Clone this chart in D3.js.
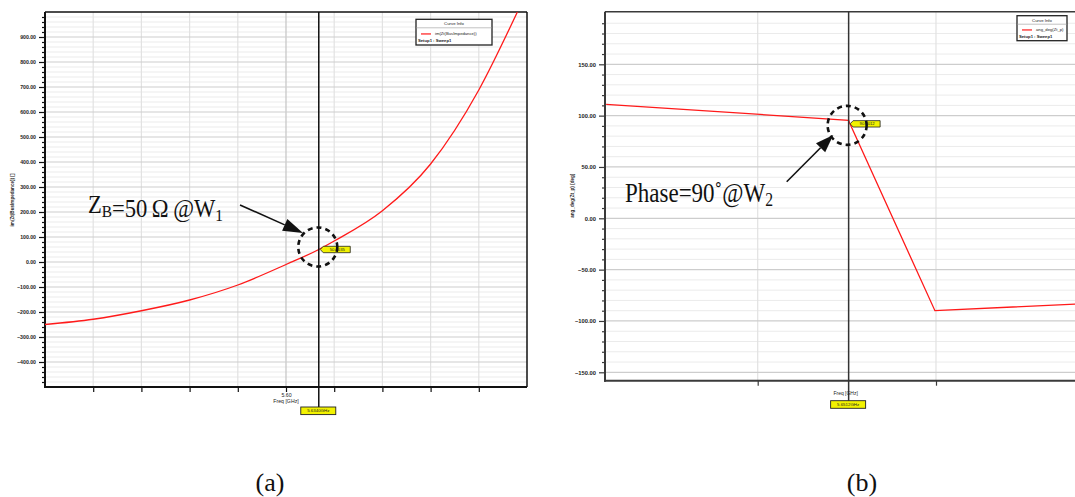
<!DOCTYPE html>
<html>
<head>
<meta charset="utf-8">
<script src="https://cdn.jsdelivr.net/npm/d3@7"></script>
<style>
  body { margin: 0; background: #fff; }
  svg { display: block; }
  .tiny { font-family: "Liberation Sans", Arial, sans-serif; fill: #222; }
  .serif { font-family: "Liberation Serif", "Times New Roman", serif; fill: #111; }
</style>
</head>
<body>
<svg id="chart" width="1075" height="497"></svg>
<script>
// (a) imaginary part of the bus impedance vs frequency
const freqA = [5.35, 5.40, 5.45, 5.50, 5.55, 5.60, 5.634, 5.65, 5.70, 5.75, 5.80, 5.84];
const imZ = [-250, -229, -195, -152, -92, -10, 50, 84, 205, 392, 688, 1000];
const yTicksA = [-400, -300, -200, -100, 0, 100, 200, 300, 400, 500, 600, 700, 800, 900];
const xGridA = [5.40, 5.45, 5.50, 5.55, 5.60, 5.65, 5.70, 5.75, 5.80];
const markerA = { freq: 5.634, value: 50, label: '50.0035', freqLabel: '5.6340GHz' };

// (b) phase of the bus impedance vs frequency
const freqB = [5.515, 5.651, 5.652, 5.6994, 5.778];
const phase = [111, 95.5, 91, -90, -83.5];
const yTicksB = [-150, -100, -50, 0, 50, 100, 150];
const xGridB = [5.6, 5.7];
const markerB = { freq: 5.651, value: 92, label: '90.0012', freqLabel: '5.6512GHz' };

const svg = d3.select('#chart');
svg.append('rect').attr('width', 1075).attr('height', 497).attr('fill', '#fff');

// grid, axes and frame of one panel
function drawFrame(g, x, y, box, opt) {
    // minor horizontal grid
    g.selectAll('line.minor')
        .data(opt.minorY)
        .join('line')
        .attr('x1', box.left).attr('x2', box.right)
        .attr('y1', d => y(d)).attr('y2', d => y(d))
        .attr('stroke', '#ebebeb').attr('stroke-width', 1);

    // vertical grid
    g.selectAll('line.vgrid')
        .data(opt.xGrid)
        .join('line')
        .attr('x1', d => x(d)).attr('x2', d => x(d))
        .attr('y1', box.top).attr('y2', box.bottom)
        .attr('stroke', d => d === opt.darkX ? '#c4c4c4' : '#e2e2e2').attr('stroke-width', 1.2);

    // major horizontal grid
    g.selectAll('line.major')
        .data(opt.yTicks)
        .join('line')
        .attr('x1', box.left).attr('x2', box.right)
        .attr('y1', d => y(d)).attr('y2', d => y(d))
        .attr('stroke', '#cdcdcd').attr('stroke-width', 1.2);

    // left axis, major ticks with labels
    const yAxis = g.append('g')
        .attr('transform', `translate(${box.left},0)`)
        .call(d3.axisLeft(y).tickValues(opt.yTicks).tickSize(6).tickPadding(3).tickFormat(d3.format('.2f')));
    yAxis.select('.domain').remove();
    yAxis.selectAll('line').attr('stroke', opt.axisColor).attr('stroke-width', 1.2);
    yAxis.selectAll('text').attr('class', 'tiny').style('font-size', opt.tickFont + 'px').style('font-weight', 'bold').attr('fill', '#333');

    // left axis, minor ticks
    const yMinor = g.append('g')
        .attr('transform', `translate(${box.left},0)`)
        .call(d3.axisLeft(y).tickValues(opt.minorY).tickSize(3).tickFormat(''));
    yMinor.select('.domain').remove();
    yMinor.selectAll('line').attr('stroke', opt.axisColor).attr('stroke-width', 1.2);

    // bottom axis
    const xAxis = g.append('g')
        .attr('transform', `translate(0,${box.bottom})`)
        .call(d3.axisBottom(x).tickValues(opt.xGrid).tickSize(5).tickPadding(1).tickFormat(opt.xFormat));
    xAxis.select('.domain').remove();
    xAxis.selectAll('line').attr('stroke', opt.axisColor).attr('stroke-width', 1.2);
    xAxis.selectAll('text').attr('class', 'tiny').style('font-size', opt.tickFont + 'px').attr('fill', '#333');

    // frame
    g.append('line').attr('x1', box.left).attr('x2', box.right).attr('y1', box.top).attr('y2', box.top)
        .attr('stroke', opt.axisColor).attr('stroke-width', 1.5);
    g.append('line').attr('x1', box.right).attr('x2', box.right).attr('y1', box.top).attr('y2', box.bottom)
        .attr('stroke', opt.axisColor).attr('stroke-width', 1.5);
    g.append('line').attr('x1', box.left).attr('x2', box.left).attr('y1', box.top).attr('y2', box.bottom + 1)
        .attr('stroke', opt.axisColor).attr('stroke-width', 2);
    g.append('line').attr('x1', box.left - 1).attr('x2', box.right).attr('y1', box.bottom).attr('y2', box.bottom)
        .attr('stroke', opt.axisColor).attr('stroke-width', 2);
}

// red curve clipped to the plot area
function drawCurve(g, x, y, box, id, xs, ys, curve) {
    g.append('clipPath').attr('id', id)
        .append('rect').attr('x', box.left).attr('y', box.top)
        .attr('width', box.right - box.left).attr('height', box.bottom - box.top);
    const line = d3.line().x(d => x(d[0])).y(d => y(d[1])).curve(curve);
    g.append('path')
        .datum(xs.map((f, i) => [f, ys[i]]))
        .attr('clip-path', `url(#${id})`)
        .attr('d', line)
        .attr('fill', 'none').attr('stroke', '#ff1a1a').attr('stroke-width', 1.3);
}

// marker line with its yellow tags
function drawMarker(g, x, y, box, m, color) {
    const mx = x(m.freq), my = y(m.value);
    const tagTop = box.bottom + 20;
    g.append('line').attr('x1', mx).attr('x2', mx).attr('y1', box.top).attr('y2', tagTop)
        .attr('stroke', color).attr('stroke-width', 1.5);

    // point tag (arrow shape)
    const tx = mx + 1.5;
    g.append('path')
        .attr('d', `M${tx},${my} L${tx + 3},${my - 3.2} L${tx + 30},${my - 3.2} L${tx + 30},${my + 3.2} L${tx + 3},${my + 3.2} Z`)
        .attr('fill', '#f2f200').attr('stroke', '#222').attr('stroke-width', 0.8);
    g.append('text').attr('class', 'tiny').attr('x', tx + 17).attr('y', my + 1.5)
        .attr('text-anchor', 'middle').style('font-size', '4.2px').text(m.label);

    // frequency tag below the axis
    g.append('rect').attr('x', mx - 18).attr('y', tagTop).attr('width', 35).attr('height', 7.6)
        .attr('fill', '#f2f200').attr('stroke', '#222').attr('stroke-width', 0.9);
    g.append('text').attr('class', 'tiny').attr('x', mx - 0.5).attr('y', tagTop + 5.4)
        .attr('text-anchor', 'middle').style('font-size', '4.4px').text(m.freqLabel);
}

// HFSS style "Curve Info" box
function drawLegend(g, b, expr) {
    g.append('rect').attr('x', b.x).attr('y', b.y).attr('width', b.w).attr('height', b.h)
        .attr('fill', '#fff').attr('stroke', '#222').attr('stroke-width', 1.3);
    g.append('text').attr('class', 'tiny').attr('x', b.x + b.w / 2).attr('y', b.y + 6)
        .attr('text-anchor', 'middle').style('font-size', '4.3px').text('Curve Info');
    g.append('line').attr('x1', b.x).attr('x2', b.x + b.w).attr('y1', b.y + 8.5).attr('y2', b.y + 8.5)
        .attr('stroke', '#999').attr('stroke-width', 0.6);
    g.append('line').attr('x1', b.x + 5).attr('x2', b.x + 15).attr('y1', b.y + b.h * 0.57).attr('y2', b.y + b.h * 0.57)
        .attr('stroke', '#ff1a1a').attr('stroke-width', 1.2);
    g.append('text').attr('class', 'tiny').attr('x', b.x + 19).attr('y', b.y + b.h * 0.57 + 1.5)
        .style('font-size', '4.2px').text(expr);
    g.append('text').attr('class', 'tiny').attr('x', b.x + 2).attr('y', b.y + b.h * 0.82 + 1.5)
        .style('font-size', '4.2px').style('font-weight', 'bold').text('Setup1 : Sweep1');
}

// dashed circle and black arrow
function drawCallout(g, cx, cy, tail, tip, headLen) {
    g.append('circle').attr('cx', cx).attr('cy', cy).attr('r', 19.5)
        .attr('fill', 'none').attr('stroke', '#111').attr('stroke-width', 2.6).attr('stroke-dasharray', '5,4');
    const ang = Math.atan2(tip[1] - tail[1], tip[0] - tail[0]);
    const bx = tip[0] - headLen * Math.cos(ang), by = tip[1] - headLen * Math.sin(ang);
    const hw = 6.5;
    g.append('line').attr('x1', tail[0]).attr('y1', tail[1]).attr('x2', bx).attr('y2', by)
        .attr('stroke', '#111').attr('stroke-width', 1.6);
    g.append('path')
        .attr('d', `M${tip[0]},${tip[1]} L${bx + hw * Math.sin(ang)},${by - hw * Math.cos(ang)} L${bx - hw * Math.sin(ang)},${by + hw * Math.cos(ang)} Z`)
        .attr('fill', '#111');
}

// serif annotation with subscripts, squeezed to the given width
function drawNote(parts, x, baseline, size, width) {
    const t = svg.append('text').attr('class', 'serif').style('font-size', size + 'px');
    parts.forEach(p => {
        if (p.sub) {
            t.append('tspan').attr('dy', 4).style('font-size', (size * 0.68) + 'px').text(p.sub);
            t.append('tspan').attr('dy', -4).text('');
        } else {
            t.append('tspan').text(p.text);
        }
    });
    const w = t.node().getBBox().width;
    t.attr('transform', `translate(${x},${baseline}) scale(${width / w},1)`);
}

// ---------- panel (a)
const boxA = { left: 45, right: 527, top: 12, bottom: 387 };
const xA = d3.scaleLinear().domain([5.35, 5.85]).range([boxA.left, boxA.right]);
const yA = d3.scaleLinear().domain([-500, 1000]).range([boxA.bottom, boxA.top]);
const gA = svg.append('g');

drawFrame(gA, xA, yA, boxA, {
    minorY: d3.range(-480, 1000, 20).filter(v => v % 100 !== 0),
    yTicks: yTicksA,
    xGrid: xGridA,
    darkX: 5.60,
    axisColor: '#111',
    tickFont: 5.2,
    xFormat: d => Math.abs(d - 5.6) < 1e-9 ? '5.60' : ''
});
drawCurve(gA, xA, yA, boxA, 'clipA', freqA, imZ, d3.curveMonotoneX);
drawMarker(gA, xA, yA, boxA, markerA, '#111');
drawLegend(gA, { x: 416, y: 19.3, w: 76, h: 25.7 }, 'im(Zt(BusImpedance))');

gA.append('text').attr('class', 'tiny').attr('x', xA(5.6)).attr('y', boxA.bottom + 16)
    .attr('text-anchor', 'middle').style('font-size', '5.2px').text('Freq [GHz]');
gA.append('text').attr('class', 'tiny')
    .attr('transform', `translate(13.5,${yA(248)}) rotate(-90)`)
    .attr('text-anchor', 'middle').style('font-size', '4.6px').style('font-weight', 'bold')
    .text('im(Zt(BusImpedance)) []');

drawCallout(gA, xA(markerA.freq) - 1, yA(markerA.value) - 2.5, [240, 205], [303, 233], 20);

// ---------- panel (b)
const boxB = { left: 605, right: 1090, top: 11.7, bottom: 380.7 };
const xB = d3.scaleLinear().domain([5.6, 5.7]).range([757.7, 936]);
const yB = d3.scaleLinear().domain([-150, 150]).range([372.3, 64.3]);
const gB = svg.append('g');

drawFrame(gB, xB, yB, boxB, {
    minorY: d3.range(-150, 201, 10).filter(v => v % 50 !== 0),
    yTicks: yTicksB,
    xGrid: xGridB,
    darkX: null,
    axisColor: '#3a3a3a',
    tickFont: 5.8,
    xFormat: () => ''
});
drawCurve(gB, xB, yB, boxB, 'clipB', freqB, phase, d3.curveLinear);
drawMarker(gB, xB, yB, boxB, markerB, '#333');
drawLegend(gB, { x: 1017, y: 15.7, w: 50, h: 25 }, 'ang_deg(Zt_p)');

gB.append('text').attr('class', 'tiny').attr('x', xB(markerB.freq) - 3).attr('y', boxB.bottom + 14.5)
    .attr('text-anchor', 'middle').style('font-size', '5px').text('Freq [GHz]');
gB.append('text').attr('class', 'tiny')
    .attr('transform', `translate(573.5,${yB(22)}) rotate(-90)`)
    .attr('text-anchor', 'middle').style('font-size', '4.6px').style('font-weight', 'bold')
    .text('ang_deg(Zt_p) [deg]');

drawCallout(gB, xB(markerB.freq) - 1.5, yB(markerB.value) + 1.5, [786.7, 181.7], [833.3, 135], 18);

// ---------- annotations
drawNote([{ text: 'Z' }, { sub: 'B' }, { text: '=50\u2009\u03A9\u2009@W' }, { sub: '1' }], 88, 213, 26, 135);
drawNote([{ text: 'Phase=90\u02DA@W' }, { sub: '2' }], 625, 202.3, 27.5, 148);

svg.append('text').attr('class', 'serif').attr('x', 270).attr('y', 491)
    .attr('text-anchor', 'middle').style('font-size', '26px').text('(a)');
svg.append('text').attr('class', 'serif').attr('x', 862).attr('y', 491)
    .attr('text-anchor', 'middle').style('font-size', '26px').text('(b)');
</script>
</body>
</html>
